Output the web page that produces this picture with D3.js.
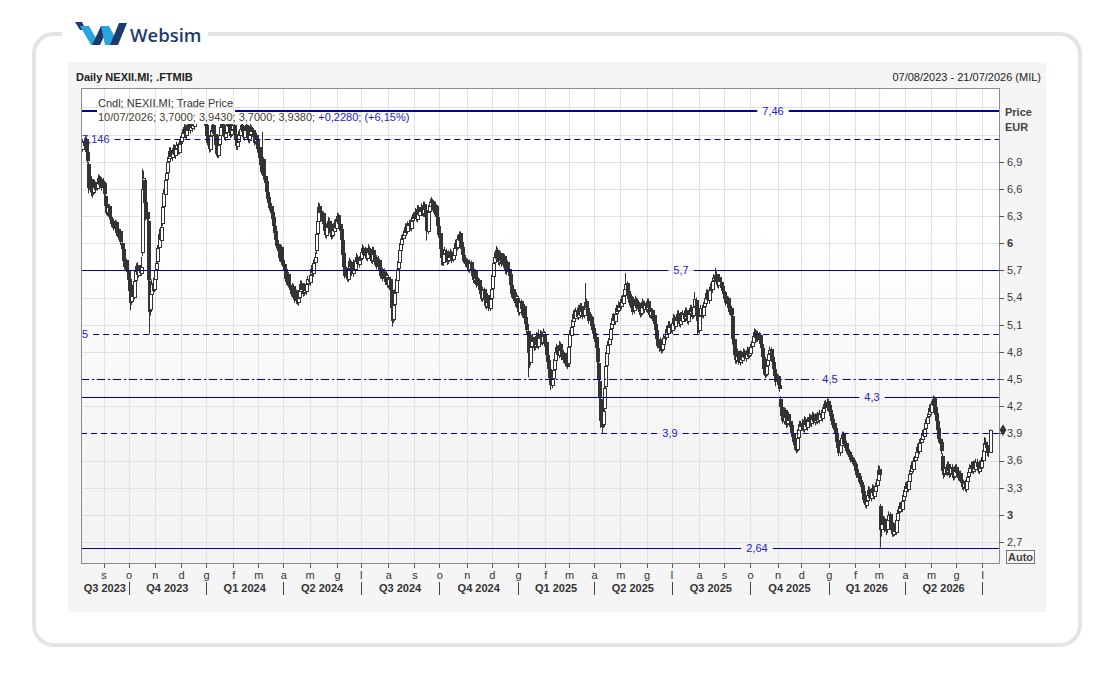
<!DOCTYPE html>
<html>
<head>
<meta charset="utf-8">
<script src="https://cdn.jsdelivr.net/npm/d3@7"></script>
<style>
body { margin: 0; background: #fff; }
svg { display: block; font-family: "Liberation Sans", Arial, sans-serif; }
</style>
</head>
<body>
<div id="chart"></div>
<script>
// ---- data: daily candles of NEXII.MI, prices in euro cents ----
var startDate = '2023-08-07', endDate = '2026-07-21';

var opens = [
708,711,704,713,707,715,701,688,660,671,657,656,663,665,661,667,673,664,671,
663,667,652,643,634,641,629,627,623,624,617,623,611,616,607,613,600,594,583,574,581,
570,561,547,536,551,541,559,569,576,565,573,567,590,662,670,646,634,625,558,527,544,556,
550,561,571,580,596,611,604,622,641,654,671,679,691,694,703,695,701,706,697,705,709,701,
711,713,717,723,729,719,726,731,725,733,727,735,729,737,741,743,737,745,739,743,737,
738,731,719,713,704,719,724,731,721,711,701,697,709,719,729,731,726,717,723,729,736,727,721,
726,731,721,716,707,713,719,727,729,725,717,726,729,723,714,721,727,725,717,713,719,
714,706,694,689,679,693,674,669,657,651,644,641,634,629,619,613,604,599,591,584,596,
581,577,571,561,557,566,554,551,544,553,541,537,546,535,541,547,556,549,546,551,547,556,
561,557,566,573,567,579,592,611,624,641,634,627,633,621,616,609,619,624,621,611,609,614,623,
617,624,631,621,616,604,589,574,564,571,561,573,579,576,567,579,571,581,584,577,
583,584,591,594,587,593,584,591,594,589,581,593,587,581,584,576,581,569,566,571,563,567,559,
563,554,561,548,528,516,533,546,559,573,579,593,599,606,609,613,619,614,621,623,617,626,
629,631,634,627,639,631,637,639,633,643,637,629,614,636,641,646,647,639,636,641,629,
619,611,594,586,579,589,591,584,581,587,586,589,583,587,596,599,596,604,611,601,596,587,583,
577,581,574,571,579,569,566,559,569,561,554,559,549,546,539,549,537,531,543,534,529,
540,551,564,579,584,593,584,579,589,581,577,586,574,569,579,571,566,554,544,549,539,534,
540,531,524,536,527,521,531,519,511,503,479,469,486,496,491,486,489,499,487,496,501,491,499,
500,491,477,471,461,453,444,451,461,471,481,484,477,489,481,476,479,473,467,476,
468,486,499,509,514,523,517,526,519,529,521,531,524,521,527,536,529,521,516,519,511,
506,501,496,484,468,448,428,404,400,418,442,466,479,489,494,506,511,519,514,523,527,526,
531,531,539,534,543,549,556,547,541,534,541,529,526,533,537,531,534,527,523,531,534,527,
533,527,536,529,521,526,517,521,511,504,494,489,486,491,483,489,496,497,506,501,511,
507,504,513,519,509,516,523,517,511,521,514,523,517,526,519,514,523,529,524,521,531,537,529,
512,504,521,529,521,531,534,541,546,537,549,551,549,559,561,566,559,554,563,557,553,
547,546,539,534,539,529,524,529,520,494,477,471,481,474,469,479,471,477,481,473,479,483,
477,479,486,491,499,503,495,501,494,499,489,484,474,461,456,466,471,479,483,474,469,461,454,
450,453,444,428,419,411,404,416,407,401,411,404,399,391,389,381,379,373,386,394,
401,397,403,395,406,401,397,405,409,401,407,411,403,409,404,411,405,413,407,414,419,423,419,
426,421,416,411,406,401,396,391,383,376,369,377,386,389,381,379,373,371,369,366,363,361,
359,356,351,346,343,339,336,333,326,319,311,316,323,329,319,326,331,321,327,333,
339,351,310,284,291,296,287,293,284,294,301,291,286,279,289,281,294,303,304,311,307,316,
321,327,333,329,337,346,349,356,351,361,364,371,376,371,381,384,391,387,396,401,409,411,
419,414,421,429,419,413,404,396,384,381,365,349,346,353,347,356,349,346,353,347,343,
349,353,347,341,346,339,337,331,336,329,337,343,347,353,356,349,357,351,359,353,349,357,
353,361,371,381,377,376,369,370
];

var highs = [
714,713,715,716,718,717,703,690,676,674,662,666,670,668,672,676,675,674,673,
672,669,654,646,644,643,633,630,629,627,626,625,619,618,616,615,603,596,586,584,583,
572,563,550,553,554,562,574,578,579,576,576,585,682,680,672,650,638,627,560,550,560,562,
566,574,582,598,616,614,622,645,660,674,683,694,699,706,706,704,709,709,708,712,711,714,
716,722,726,732,731,729,734,734,736,736,738,738,740,744,746,746,746,746,746,746,741,
740,733,722,715,721,729,734,733,723,713,704,712,724,732,736,734,728,726,734,739,738,729,729,
734,733,724,718,716,724,730,734,732,727,729,734,731,725,724,732,730,727,719,724,722,
716,708,697,692,723,695,677,671,660,655,648,644,637,631,622,615,607,602,594,598,598,
584,580,574,565,569,568,557,554,556,555,545,549,548,544,552,559,559,553,556,554,559,564,
565,569,576,577,582,590,615,630,645,644,638,636,635,624,619,622,629,628,623,614,619,626,627,
629,634,633,624,618,606,591,577,574,573,576,584,582,579,582,581,584,589,587,586,
589,594,599,597,596,595,594,599,597,591,596,596,589,589,586,586,583,572,576,573,572,569,569,
566,564,563,550,530,536,549,564,576,585,596,605,609,614,616,622,622,624,626,626,629,632,
634,639,637,642,642,640,644,642,646,646,640,631,639,646,649,651,649,642,646,643,631,
622,613,597,589,592,596,594,587,592,591,594,592,592,599,604,602,609,613,613,604,598,590,586,
584,583,577,582,581,572,568,572,571,563,562,561,552,548,552,551,540,546,545,537,542,
554,569,582,590,597,595,587,592,591,584,589,588,577,582,581,574,568,557,552,551,542,546,
543,534,539,538,530,534,533,522,514,505,482,489,499,500,494,494,502,501,505,504,503,502,506,
503,493,480,474,464,456,454,464,476,484,489,487,492,491,484,484,482,476,479,478,
489,504,512,519,526,527,529,529,532,532,534,534,527,532,556,539,532,524,524,522,514,
509,504,498,487,471,451,431,415,420,445,470,486,492,499,509,516,522,523,526,532,531,536,
535,542,543,546,554,567,558,550,544,546,544,532,536,542,540,539,537,530,534,539,537,536,
536,539,539,532,529,528,524,523,514,507,497,492,496,494,494,499,502,509,509,514,514,
510,516,522,521,519,526,526,520,524,524,526,526,529,529,522,526,532,532,527,534,546,540,531,
514,524,532,532,534,539,544,549,549,552,556,555,562,566,573,569,562,566,566,560,556,
550,549,542,542,541,532,532,531,522,496,480,484,484,477,482,481,480,484,483,482,486,485,
484,489,496,502,506,505,504,503,502,501,492,487,476,464,469,476,482,486,485,477,472,464,457,
456,455,447,431,422,414,419,418,410,416,414,407,402,394,392,384,382,389,399,404,
404,406,405,409,408,404,408,412,411,410,414,413,412,412,414,413,416,416,419,422,426,427,429,
428,424,419,414,409,404,399,394,386,379,382,389,392,392,384,382,376,374,372,369,366,364,
362,359,354,349,346,342,339,336,329,322,319,326,332,331,329,334,333,332,336,345,
355,354,312,294,299,298,296,295,299,304,303,294,289,292,291,299,306,309,314,314,319,326,
332,336,337,342,349,354,359,360,364,369,374,379,380,384,389,394,395,399,406,412,416,422,
423,426,432,431,422,416,407,398,387,384,368,352,356,356,359,359,352,356,356,350,354,
356,356,350,349,349,342,340,339,339,342,346,352,356,359,359,360,360,362,362,357,360,361,
364,376,386,385,381,379,375,394.3
];

var lows = [
704,702,701,705,704,699,688,655,656,652,650,653,660,656,658,664,661,661,658,
660,651,638,631,630,626,624,618,619,614,614,608,607,604,603,598,590,578,571,570,568,
555,543,526,532,538,538,556,565,562,562,564,564,586,655,640,625,620,552,500,520,540,544,
546,557,567,577,592,600,601,619,637,650,667,675,687,690,692,691,697,694,693,701,698,698,
707,709,713,719,716,715,722,722,721,724,723,726,725,733,737,734,733,736,735,734,731,
726,716,708,700,701,715,720,718,706,696,694,694,706,715,725,721,714,713,719,725,724,716,717,
722,718,711,703,703,709,715,723,720,714,713,722,718,711,710,717,720,714,708,709,711,
700,690,684,676,676,670,664,653,646,640,636,630,623,615,608,600,594,588,580,581,576,
574,566,558,554,553,551,546,541,540,538,534,533,532,531,537,543,546,541,542,544,543,552,
554,553,562,564,563,575,588,607,620,630,624,623,618,610,606,605,615,616,608,604,605,610,614,
613,620,618,611,600,583,570,561,560,558,557,569,571,564,563,568,567,577,574,573,
579,580,587,584,583,581,580,587,584,578,577,584,576,577,571,572,566,561,562,558,559,554,555,
551,550,546,525,508,512,529,542,555,569,575,589,595,602,605,609,611,610,617,614,613,622,
625,627,624,623,628,627,633,630,629,634,626,603,610,632,637,642,636,631,632,626,616,
606,590,576,575,575,585,581,576,577,581,582,578,579,583,592,591,592,600,598,591,584,578,574,
573,571,568,567,566,561,556,555,558,551,550,546,541,536,535,534,528,527,531,525,525,
536,547,560,575,580,581,576,575,578,574,573,571,566,565,568,561,551,540,540,536,530,530,
526,521,520,524,518,517,516,508,500,452,462,465,482,488,481,482,485,484,483,492,488,487,495,
486,474,466,458,446,438,440,447,457,467,477,474,473,478,471,472,468,464,463,461,
464,482,495,505,510,514,513,516,515,518,517,521,516,517,523,526,518,511,512,506,500,
498,491,480,465,444,424,396,390,396,414,438,462,475,485,490,502,507,511,510,519,521,522,
526,527,531,530,539,545,544,536,531,530,526,521,522,529,526,527,524,518,519,527,524,523,
524,523,526,518,517,514,513,508,501,490,484,480,482,478,479,485,492,493,498,497,504,
501,500,509,506,505,512,514,508,507,511,510,514,513,516,511,510,519,521,516,517,527,526,500,
501,500,517,518,517,527,530,537,534,533,545,546,545,555,557,556,551,550,554,548,544,
541,536,531,530,526,521,520,518,488,472,467,467,471,466,465,468,467,473,470,469,475,472,
473,475,482,487,495,492,491,491,490,486,481,471,455,451,452,462,467,475,471,466,458,451,442,
446,441,436,414,405,401,400,404,396,397,401,393,386,383,377,372,368,369,382,390,
394,393,392,391,396,394,393,401,398,397,403,400,399,401,400,402,401,404,403,410,415,416,415,
416,411,406,401,396,391,385,377,370,365,365,373,382,376,374,368,366,364,361,358,356,354,
351,346,341,338,334,331,327,320,313,308,307,312,319,316,315,322,318,317,323,329,
335,341,264,276,285,281,282,278,280,290,286,279,276,276,277,278,290,299,300,304,303,312,
317,323,326,325,333,342,345,348,347,357,360,367,368,367,377,380,384,383,392,397,405,407,
411,410,417,416,408,401,390,380,375,367,345,340,342,344,343,346,341,342,344,338,339,
345,344,338,337,336,332,328,327,326,325,333,339,343,349,346,345,348,347,350,346,345,348,
349,357,367,373,370,365,364,370
];

var closes = [
710,705,712,708,714,702,692,662,670,658,655,662,666,660,668,672,665,670,662,
668,655,642,635,640,630,628,622,625,618,622,612,615,608,612,602,595,582,575,580,572,
560,548,535,550,542,558,570,575,566,572,568,574,660,672,645,635,628,560,525,545,555,548,
562,570,578,595,610,605,618,640,655,670,678,690,695,702,696,700,705,698,704,708,702,710,
712,718,722,728,720,725,730,726,732,728,734,730,736,740,742,738,744,740,742,738,736,
730,720,712,705,718,725,730,722,710,700,698,708,720,728,732,725,718,722,730,735,728,720,725,
730,722,715,708,712,720,726,730,724,718,725,730,722,715,720,728,724,718,712,720,715,
705,695,688,680,692,675,668,658,650,645,640,635,628,620,612,605,598,592,585,595,580,
578,570,562,558,565,555,550,545,552,542,538,545,536,540,548,555,550,545,552,548,555,560,
558,565,572,568,578,585,610,625,640,635,628,632,622,615,610,618,625,620,612,608,615,622,618,
625,630,622,615,605,588,575,565,570,562,572,580,575,568,578,572,580,585,578,582,
585,590,595,588,592,585,590,595,588,582,592,588,580,585,575,582,570,565,572,562,568,558,565,
555,560,550,530,515,532,545,560,572,580,592,600,605,610,612,618,615,620,622,618,625,628,
630,635,628,638,632,636,640,634,642,638,630,615,635,642,645,648,640,635,642,630,620,
610,595,585,580,588,592,585,580,588,585,590,582,588,595,600,595,605,610,602,595,588,582,578,
580,575,572,578,570,565,560,568,562,555,558,550,545,540,548,538,532,542,535,530,538,
550,565,578,585,592,585,580,588,582,578,585,575,570,578,572,565,555,545,548,540,535,542,
530,525,535,528,522,530,520,512,505,480,470,485,495,492,485,490,498,488,495,500,492,498,502,
490,478,470,462,452,445,450,460,472,480,485,478,488,482,475,480,472,468,475,465,
485,500,508,515,522,518,525,520,528,522,530,525,520,528,535,530,522,515,520,510,505,
502,495,485,470,450,430,405,398,415,440,465,480,488,495,505,512,518,515,522,528,525,532,
530,538,535,542,550,555,548,540,535,542,530,525,532,538,530,535,528,522,530,535,528,532,
528,535,530,522,525,518,520,512,505,495,488,485,492,482,490,495,498,505,502,510,508,
505,512,518,510,515,522,518,512,520,515,522,518,525,520,515,522,528,525,520,530,538,530,515,
505,520,528,522,530,535,540,545,538,548,552,550,558,562,565,560,555,562,558,552,548,
545,540,535,538,530,525,528,522,495,478,472,480,475,470,478,472,476,480,474,478,482,476,
480,485,492,498,502,496,500,495,498,490,485,475,462,455,465,472,478,482,475,470,462,455,448,
452,445,440,420,410,405,415,408,400,412,405,398,392,388,382,378,372,385,395,400,
398,402,396,405,400,398,404,408,402,406,410,404,408,405,410,406,412,408,415,418,422,420,425,
420,415,410,405,400,395,390,382,375,370,378,385,388,380,378,372,370,368,365,362,360,358,
355,350,345,342,338,335,332,325,318,312,315,322,328,320,325,330,322,328,332,340,
350,345,285,290,295,288,292,285,295,300,292,285,280,288,282,295,302,305,310,308,315,322,
328,332,330,338,345,350,355,352,360,365,370,375,372,380,385,390,388,395,402,408,412,418,
415,422,428,420,412,405,395,385,380,372,350,345,352,348,355,350,345,352,348,342,350,
352,348,342,345,340,336,332,335,330,338,342,348,352,355,350,356,352,358,354,350,356,352,
360,372,380,378,375,370,371,393.8
];

// horizontal levels drawn on the chart
var levelValues = [7.46, 7.146, 5.7, 5, 4.5, 4.3, 3.9, 2.64];
var levelLabels = ['7,46', '7,146', '5,7', '5', '4,5', '4,3', '3,9', '2,64'];

// right axis
var yTicks = [6.9, 6.6, 6.3, 6, 5.7, 5.4, 5.1, 4.8, 4.5, 4.2, 3.9, 3.6, 3.3, 3, 2.7];
var gridValues = [7.5, 7.2, 6.9, 6.6, 6.3, 6, 5.7, 5.4, 5.1, 4.8, 4.5, 4.2, 3.9, 3.6, 3.3, 3, 2.7];

// month initials (italian)
var monthLetters = ['g', 'f', 'm', 'a', 'm', 'g', 'l', 'a', 's', 'o', 'n', 'd'];

// legend values of the last candle
var legendName = 'Cndl; NEXII.MI; Trade Price';
var legendValues = '10/07/2026; 3,7000; 3,9430; 3,7000; 3,9380; ';
var legendChange = '+0,2280; (+6,15%)';

// ---- layout ----
var W = 1114, H = 680;
var plot = { left: 81, right: 999, top: 88, bottom: 563 };
var navy = '#0000a8', candleColor = '#333';

var levelStyles = [
    { dash: null, width: 2, labelX: 773, anchor: 'middle' },
    { dash: '6,4', width: 1, labelX: 82, anchor: 'start' },
    { dash: null, width: 1, labelX: 681, anchor: 'middle' },
    { dash: '6,4', width: 1, labelX: 82, anchor: 'start' },
    { dash: '8,3,2,3', width: 1, labelX: 830, anchor: 'middle' },
    { dash: null, width: 1, labelX: 872, anchor: 'middle' },
    { dash: '6,4', width: 1, labelX: 670, anchor: 'middle' },
    { dash: null, width: 1, labelX: 757, anchor: 'middle' }
];

var svg = d3.select('#chart').append('svg')
    .attr('width', W)
    .attr('height', H);

var defs = svg.append('defs');
var grad = defs.append('linearGradient')
    .attr('id', 'plotbg')
    .attr('x1', 0).attr('y1', 0).attr('x2', 0).attr('y2', 1);
grad.append('stop').attr('offset', '0.3').attr('stop-color', '#ffffff');
grad.append('stop').attr('offset', '0.75').attr('stop-color', '#f5f5f5');
grad.append('stop').attr('offset', '1').attr('stop-color', '#f3f3f3');

defs.append('clipPath').attr('id', 'clip')
    .append('rect')
    .attr('x', plot.left).attr('y', 124)
    .attr('width', plot.right - plot.left).attr('height', plot.bottom - 124);

// card and panel
svg.append('rect')
    .attr('x', 34).attr('y', 34)
    .attr('width', 1046).attr('height', 611)
    .attr('rx', 20)
    .attr('fill', '#fff')
    .attr('stroke', '#e4e4e4')
    .attr('stroke-width', 4);

svg.append('rect')
    .attr('x', 68).attr('y', 62)
    .attr('width', 978).attr('height', 550)
    .attr('fill', '#f5f5f5');

// logo
var logo = svg.append('g');
logo.append('rect').attr('x', 62).attr('y', 18).attr('width', 146).attr('height', 32).attr('fill', '#fff');
logo.append('polygon').attr('points', '75,22 82,22 86,30 80,30').attr('fill', '#1c3b6c');
logo.append('polygon').attr('points', '80,26 89,26 100,45 91,45').attr('fill', '#2aa4dc');
logo.append('polygon').attr('points', '92,45 100,45 109,26 101,26').attr('fill', '#1c3b6c');
logo.append('polygon').attr('points', '101,26 109,26 117,41 112,45 105,45').attr('fill', '#2aa4dc');
logo.append('polygon').attr('points', '110,45 118,45 127,23 119,23').attr('fill', '#1c3b6c');
logo.append('text')
    .attr('x', 130).attr('y', 42)
    .style('font-family', '"Open Sans", sans-serif')
    .style('font-size', '18.5px')
    .style('font-weight', 600)
    .attr('fill', '#1f3b6d')
    .text('Websim');

// header
svg.append('text')
    .attr('x', 76).attr('y', 81)
    .style('font-size', '11px').style('font-weight', 'bold')
    .attr('fill', '#222')
    .text('Daily NEXII.MI; .FTMIB');
svg.append('text')
    .attr('x', 1041).attr('y', 81)
    .style('font-size', '11px')
    .style('text-anchor', 'end')
    .attr('fill', '#222')
    .text('07/08/2023 - 21/07/2026 (MIL)');

// scales: x runs over trading days (weekdays)
var parse = d3.timeParse('%Y-%m-%d');
var days = d3.timeDay.range(parse(startDate), d3.timeDay.offset(parse(endDate), 1))
    .filter(function (d) { var w = d.getDay(); return w > 0 && w < 6; });

var x = d3.scaleLinear().domain([0, days.length - 1]).range([plot.left, plot.right]);
var y = d3.scaleLinear().domain([2.47, 7.7135]).range([plot.bottom, plot.top]);

var monthStarts = [];
for (var i = 1; i < days.length; i++) {
    if (days[i].getMonth() !== days[i - 1].getMonth()) monthStarts.push(i);
}
var quarterStarts = monthStarts.filter(function (i) { return days[i].getMonth() % 3 === 0; });

// plot background and grid
var main = svg.append('g');
main.append('rect')
    .attr('x', plot.left).attr('y', plot.top)
    .attr('width', plot.right - plot.left).attr('height', plot.bottom - plot.top)
    .attr('fill', 'url(#plotbg)');

main.append('g').selectAll('line')
    .data(gridValues)
    .enter().append('line')
    .attr('x1', plot.left).attr('x2', plot.right)
    .attr('y1', function (d) { return Math.round(y(d)) + 0.5; })
    .attr('y2', function (d) { return Math.round(y(d)) + 0.5; })
    .attr('stroke', '#e1e1e1');

main.append('g').selectAll('line')
    .data(monthStarts)
    .enter().append('line')
    .attr('x1', function (d) { return Math.round(x(d)) + 0.5; })
    .attr('x2', function (d) { return Math.round(x(d)) + 0.5; })
    .attr('y1', plot.top).attr('y2', plot.bottom)
    .attr('stroke', '#e1e1e1');

// candles: hollow when up, filled when down
var idx = d3.range(closes.length);
var cg = main.append('g').attr('clip-path', 'url(#clip)');
cg.selectAll('line')
    .data(idx)
    .enter().append('line')
    .attr('x1', function (i) { return Math.round(x(i)) - 0.5; })
    .attr('x2', function (i) { return Math.round(x(i)) - 0.5; })
    .attr('y1', function (i) { return y(Math.max(highs[i], opens[i], closes[i]) / 100); })
    .attr('y2', function (i) { return y(Math.min(lows[i], opens[i], closes[i]) / 100); })
    .attr('stroke', candleColor);
cg.selectAll('rect')
    .data(idx)
    .enter().append('rect')
    .attr('x', function (i) { return Math.round(x(i)) - 1.5; })
    .attr('width', 3)
    .attr('y', function (i) { return Math.round(y(Math.max(opens[i], closes[i]) / 100)) + 0.5; })
    .attr('height', function (i) {
        var top = Math.round(y(Math.max(opens[i], closes[i]) / 100));
        var bot = Math.round(y(Math.min(opens[i], closes[i]) / 100));
        return Math.max(1, bot - top);
    })
    .attr('fill', function (i) { return closes[i] >= opens[i] ? '#fff' : candleColor; })
    .attr('stroke', candleColor);

// legend text
var legend = svg.append('g').style('font-size', '11px');
var legName = legend.append('text')
    .attr('x', 98).attr('y', 107)
    .attr('fill', '#333')
    .text(legendName);
var legVals = legend.append('text')
    .attr('x', 98).attr('y', 121)
    .attr('fill', '#473c2e');
legVals.append('tspan').text(legendValues);
legVals.append('tspan').attr('fill', '#1a1ad2').text(legendChange);

// horizontal levels, lines broken around their labels
var levels = svg.append('g');
levelValues.forEach(function (v, k) {
    var st = levelStyles[k];
    var ly = Math.round(y(v)) + (st.width === 2 ? 0 : 0.5);
    var label = levels.append('text')
        .attr('x', st.labelX).attr('y', ly)
        .attr('dy', '0.35em')
        .style('font-size', '11px')
        .style('text-anchor', st.anchor)
        .attr('fill', '#2424c0')
        .text(levelLabels[k]);
    var bb = label.node().getBBox();
    var gaps = [[bb.x - 5, bb.x + bb.width + 5]];
    if (k === 0) {
        var lb = legName.node().getBBox();
        gaps.push([lb.x - 1, lb.x + lb.width + 2]);
    }
    gaps.sort(function (a, b) { return a[0] - b[0]; });
    var segs = [], cur = plot.left;
    gaps.forEach(function (g) {
        if (g[0] > cur) segs.push([cur, g[0]]);
        cur = Math.max(cur, g[1]);
    });
    if (cur < plot.right) segs.push([cur, plot.right]);
    levels.selectAll(null)
        .data(segs)
        .enter().append('line')
        .attr('x1', function (s) { return s[0]; })
        .attr('x2', function (s) { return s[1]; })
        .attr('y1', ly).attr('y2', ly)
        .attr('stroke', navy)
        .attr('stroke-width', st.width)
        .attr('stroke-dasharray', st.dash);
});

// frame
var frame = svg.append('g').attr('stroke', '#8c8c8c').attr('fill', 'none');
frame.append('path')
    .attr('d', 'M' + (plot.left + 0.5) + ',' + plot.bottom + 'V' + (plot.top + 0.5) + 'H' + plot.right);
frame.append('line')
    .attr('x1', plot.left).attr('x2', plot.right + 1)
    .attr('y1', plot.bottom + 0.5).attr('y2', plot.bottom + 0.5);
frame.append('line')
    .attr('x1', plot.right + 0.5).attr('x2', plot.right + 0.5)
    .attr('y1', plot.top).attr('y2', plot.bottom + 1);

// right axis
var yAxis = svg.append('g').style('font-size', '11px');
yAxis.selectAll('line')
    .data(yTicks)
    .enter().append('line')
    .attr('x1', plot.right).attr('x2', plot.right + 5)
    .attr('y1', function (d) { return Math.round(y(d)) + 0.5; })
    .attr('y2', function (d) { return Math.round(y(d)) + 0.5; })
    .attr('stroke', '#555');
yAxis.selectAll('text')
    .data(yTicks)
    .enter().append('text')
    .attr('x', plot.right + 8)
    .attr('y', function (d) { return y(d); })
    .attr('dy', '0.35em')
    .attr('fill', '#3a3a3a')
    .style('font-weight', function (d) { return d % 1 === 0 ? 'bold' : 'normal'; })
    .text(function (d) { return String(d).replace('.', ','); });

yAxis.append('text').attr('x', 1005).attr('y', 116)
    .style('font-weight', 'bold').attr('fill', '#444').text('Price');
yAxis.append('text').attr('x', 1005).attr('y', 131)
    .style('font-weight', 'bold').attr('fill', '#444').text('EUR');

var auto = yAxis.append('g');
auto.append('rect')
    .attr('x', 1006.5).attr('y', 550.5).attr('width', 28).attr('height', 13)
    .attr('fill', '#f5f5f5').attr('stroke', '#777');
auto.append('text').attr('x', 1020.5).attr('y', 561)
    .style('text-anchor', 'middle').style('font-weight', 'bold')
    .attr('fill', '#444').text('Auto');

// last price marker
var last = closes.length - 1;
svg.append('path')
    .attr('d', d3.symbol().type(d3.symbolDiamond).size(40))
    .attr('transform', 'translate(' + (plot.right + 4) + ',' + y(closes[last] / 100) + ')')
    .attr('fill', '#333');

// bottom axis: month ticks and letters, quarters
var xAxis = svg.append('g').style('font-size', '11px').attr('fill', '#333');
xAxis.selectAll('line.m')
    .data(monthStarts)
    .enter().append('line')
    .attr('class', 'm')
    .attr('x1', function (d) { return Math.round(x(d)) + 0.5; })
    .attr('x2', function (d) { return Math.round(x(d)) + 0.5; })
    .attr('y1', plot.bottom + 1).attr('y2', plot.bottom + 5)
    .attr('stroke', '#555');
xAxis.selectAll('text.m')
    .data(monthStarts)
    .enter().append('text')
    .attr('class', 'm')
    .attr('x', function (d) { return x(d) + 0.5; })
    .attr('y', 579)
    .style('text-anchor', 'middle')
    .text(function (d) { return monthLetters[days[d].getMonth()]; });

xAxis.selectAll('line.q')
    .data(quarterStarts)
    .enter().append('line')
    .attr('class', 'q')
    .attr('x1', function (d) { return Math.round(x(d)) + 0.5; })
    .attr('x2', function (d) { return Math.round(x(d)) + 0.5; })
    .attr('y1', 582).attr('y2', 595)
    .attr('stroke', '#444');

var qBounds = [0].concat(quarterStarts).concat([days.length - 1]);
var quarters = [];
for (var q = 0; q < qBounds.length - 1; q++) {
    var d0 = days[qBounds[q]];
    quarters.push({
        x0: x(qBounds[q]), x1: x(qBounds[q + 1]),
        label: 'Q' + (Math.floor(d0.getMonth() / 3) + 1) + ' ' + d0.getFullYear()
    });
}
xAxis.selectAll('text.q')
    .data(quarters.filter(function (d) { return d.x1 - d.x0 > 40; }))
    .enter().append('text')
    .attr('class', 'q')
    .attr('x', function (d) { return (d.x0 + d.x1) / 2; })
    .attr('y', 592)
    .style('text-anchor', 'middle')
    .style('font-weight', 'bold')
    .text(function (d) { return d.label; });
</script>
</body>
</html>
